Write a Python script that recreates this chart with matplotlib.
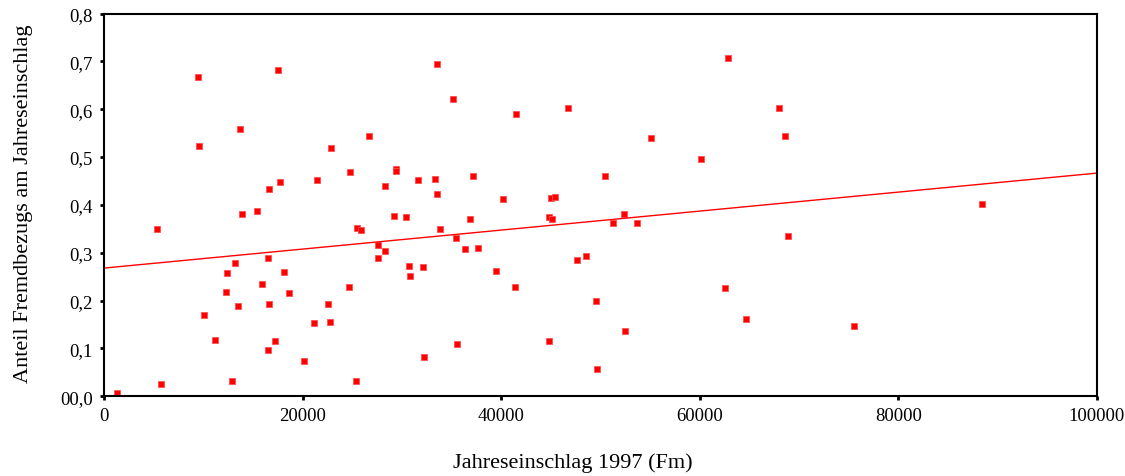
import matplotlib.pyplot as plt

# Jahreseinschlag 1997 (Fm)
einschlag = [
    1343, 5307, 5774, 9436, 9600, 10070, 11178, 12286, 12420, 12924,
    13226, 13528, 13696, 13867, 15440, 15911, 16550, 16550, 16583, 16586,
    17190, 17523, 17690, 18127, 18630, 20178, 21115, 21480, 22592, 22726,
    22890, 24640, 24806, 25410, 25446, 25915, 26687, 27626, 27626, 28298,
    28298, 29240, 29406, 29406, 30380, 30681, 30816, 31621, 32090, 32259,
    33366, 33535, 33535, 33870, 35112, 35415, 35582, 36388, 36858, 37160,
    37633, 39510, 40213, 41422, 41460, 44780, 44814, 45015, 45116, 45452,
    46697, 47633, 48570, 49547, 49679, 50484, 51292, 52400, 52508, 53676,
    55085, 60157, 62570, 62870, 64620, 67976, 68546, 68882, 75560, 88387,
]
# Anteil Fremdbezugs am Jahreseinschlag
anteil = [
    0.006, 0.349, 0.025, 0.668, 0.524, 0.169, 0.118, 0.218, 0.257, 0.033,
    0.278, 0.188, 0.559, 0.381, 0.387, 0.234, 0.289, 0.096, 0.194, 0.434,
    0.115, 0.681, 0.447, 0.259, 0.216, 0.074, 0.153, 0.453, 0.194, 0.155,
    0.518, 0.229, 0.469, 0.033, 0.352, 0.347, 0.545, 0.317, 0.289, 0.439,
    0.303, 0.376, 0.476, 0.470, 0.374, 0.273, 0.251, 0.453, 0.270, 0.082,
    0.455, 0.695, 0.423, 0.349, 0.622, 0.331, 0.109, 0.308, 0.371, 0.460,
    0.311, 0.262, 0.412, 0.229, 0.589, 0.115, 0.374, 0.414, 0.371, 0.417,
    0.603, 0.284, 0.294, 0.199, 0.058, 0.460, 0.363, 0.382, 0.137, 0.363,
    0.540, 0.496, 0.226, 0.706, 0.161, 0.603, 0.543, 0.335, 0.147, 0.401,
]

# Regressionsgerade
fit_intercept = 0.268
fit_slope = 0.1985 / 100000

x_ticks = [0, 20000, 40000, 60000, 80000, 100000]
y_ticks = [0.0, 0.1, 0.2, 0.3, 0.4, 0.5, 0.6, 0.7, 0.8]
y_labels = ['00,0', '0,1', '0,2', '0,3', '0,4', '0,5', '0,6', '0,7', '0,8']

plt.rcParams['font.family'] = ['Liberation Serif', 'DejaVu Serif']

fig = plt.figure(figsize=(11.25, 4.77), dpi=100)
ax = fig.add_axes([0.0924, 0.167, 0.8827, 0.8026])

ax.plot(einschlag, anteil, linestyle='none', marker='s', markersize=4.3,
        markerfacecolor='#ff0000', markeredgecolor='#ff5050',
        markeredgewidth=0.6)

line_x = [0, 100000]
line_y = [fit_intercept + fit_slope * v for v in line_x]
ax.plot(line_x, line_y, color='#ff0000', linewidth=1.0)

ax.set_xlim(0, 100000)
ax.set_ylim(0, 0.8)
ax.set_xticks(x_ticks)
ax.set_xticklabels([str(v) for v in x_ticks])
ax.set_yticks(y_ticks)
ax.set_yticklabels(y_labels)
ax.tick_params(direction='out', length=3, width=2, labelsize=13.5, pad=5)

for s in ax.spines.values():
    s.set_linewidth(1.5)
    s.set_color('black')

ax.set_xlabel('Jahreseinschlag 1997 (Fm)', fontsize=16)
ax.xaxis.set_label_coords(0.472, -0.145)
ax.set_ylabel('Anteil Fremdbezugs am Jahreseinschlag', fontsize=16)
ax.yaxis.set_label_coords(-0.0715, 0.506)

fig.savefig('out.png', dpi=100)
